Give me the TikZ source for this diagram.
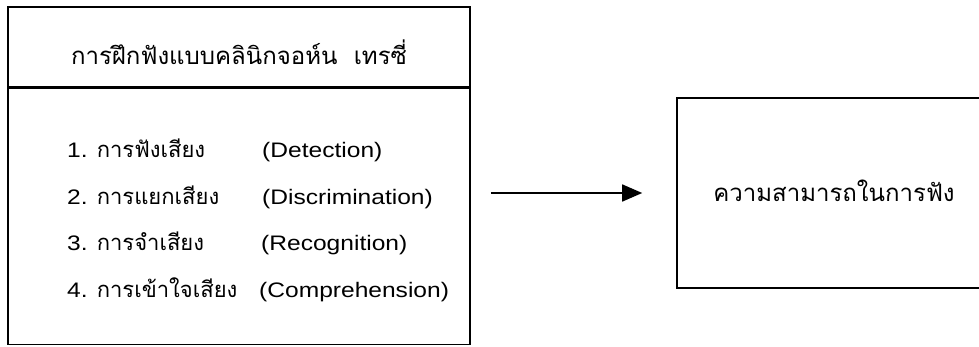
\documentclass[tikz,border=0pt]{standalone}
\usepackage{fontspec}
\setmainfont[FakeStretch=1.17]{Liberation Sans}
\newfontfamily\thaifont[Script=Thai]{Loma}
\newcommand{\itemthai}{\fontsize{22}{26}\selectfont\thaifont}
\usetikzlibrary{arrows.meta, positioning}

\begin{document}
\begin{tikzpicture}[x=1pt, y=1pt, font=\fontsize{21}{25}\selectfont]
        \tikzstyle{box} = [rectangle, draw, line width=1.6pt, inner sep=0pt]
        \tikzstyle{item} = [anchor=base west, inner sep=0pt]
        \tikzstyle{thai} = [font=\fontsize{24}{28}\selectfont\thaifont]
        \tikzstyle{arrow} = [-{Triangle[length=20pt, width=17pt]}, line width=1.6pt]
        \useasboundingbox (0,0) rectangle (979,346);

        \node[box, minimum width=462pt, minimum height=80pt] (training) at (239,299) {};
        \node[box, minimum width=462pt, minimum height=256pt, below=0pt of training] (skills) {};
        \node[thai, anchor=base, inner sep=0pt] (trainingTitle) at (239,281) {การฝึกฟังแบบคลินิกจอห์น\ \ เทรซี่};

        \node[item] (detectTh) at (67,189) {1. {\itemthai การฟังเสียง}};
        \node[item] (discrimTh) at (67,142) {2. {\itemthai การแยกเสียง}};
        \node[item] (recogTh) at (67,96) {3. {\itemthai การจำเสียง}};
        \node[item] (comprehTh) at (67,49) {4. {\itemthai การเข้าใจเสียง}};
        \node[item] (detectEn) at (262,189) {(Detection)};
        \node[item] (discrimEn) at (262,142) {(Discrimination)};
        \node[item] (recogEn) at (261,96) {(Recognition)};
        \node[item] (comprehEn) at (259,49) {(Comprehension)};

        \node[box, minimum width=400pt, minimum height=190pt] (ability) at (877,153) {};
        \node[thai, anchor=base, inner sep=0pt] (abilityText) at (834,145) {ความสามารถในการฟัง};

        \draw[arrow, shorten <=20pt, shorten >=34pt] (skills.east |- ability.west) -- (ability.west);
\end{tikzpicture}
\end{document}
